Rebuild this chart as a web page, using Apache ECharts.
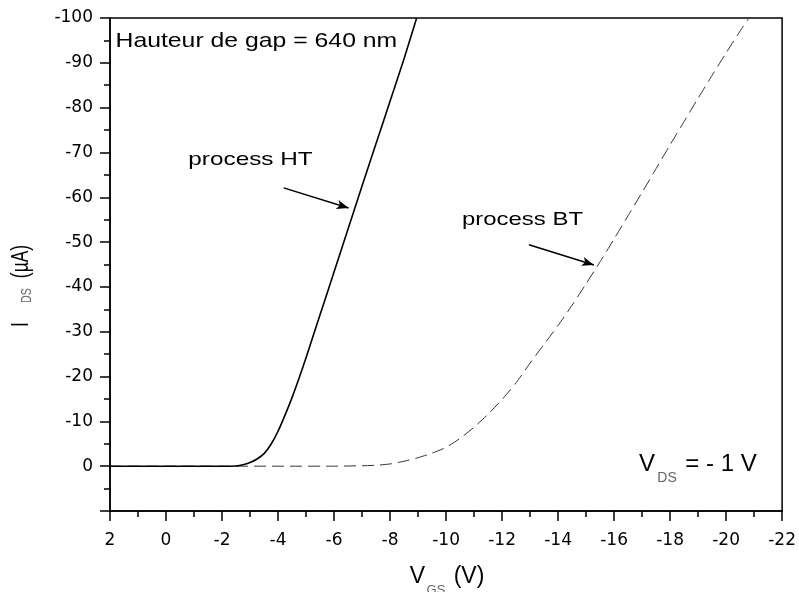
<!DOCTYPE html>
<html><head><meta charset="utf-8">
<script src="https://cdn.jsdelivr.net/npm/echarts@6/dist/echarts.min.js"></script>
<style>html,body{margin:0;padding:0;background:#fff}#c{width:799px;height:592px}</style>
</head><body><div id="c"></div>
<script>
// Process HT (solid) : V_GS (V) and I_DS (µA)
const htV = [2, 0, -2, -2.5, -2.75, -3.0, -3.25, -3.5, -3.75, -4.0, -4.25, -4.5, -4.75, -5.0, -5.5, -6.0, -6.5, -7.0, -7.5, -8.0, -8.5, -8.95];
const htI = [0, 0, 0, -0.05, -0.3, -0.8, -1.6, -2.8, -4.9, -7.8, -11.4, -15.3, -19.6, -24.2, -33.8, -43.3, -52.9, -62.5, -72.0, -81.4, -90.9, -100];
// Process BT (dashed)
const btV = [2, 0, -2, -4, -6, -7, -7.5, -8, -8.5, -9, -9.5, -10, -10.5, -11, -11.5, -12, -12.5, -13, -13.5, -14, -14.5, -15, -15.5, -16, -16.5, -17, -17.5, -18, -18.5, -19, -19.5, -20, -20.5, -20.82];
const btI = [0, 0, 0, 0, 0, -0.1, -0.2, -0.5, -1.1, -1.9, -2.9, -4.2, -6.2, -8.7, -11.6, -14.9, -18.6, -23.0, -27.2, -31.4, -35.9, -40.7, -45.6, -50.7, -55.9, -61.1, -66.4, -71.7, -76.9, -82.1, -87.2, -92.2, -97.1, -100];
// Annotation arrows (data units: start, end)
const arrowHT = [[-4.20, -62.1], [-6.52, -57.6]];
const arrowBT = [[-12.96, -49.4], [-15.28, -44.9]];

const chart = echarts.init(document.getElementById('c'), null, {renderer: 'canvas'});
const black = '#000';
function txt(text, x, y, size, extra) {
  const o = Object.assign({color: black, family: '"Liberation Sans", Arial, sans-serif', align: 'center'}, extra || {});
  const el = {
    type: 'text', x: x, y: y, silent: true, z: 100,
    style: {
      text: text, fill: o.color, font: size + 'px ' + o.family,
      align: o.align, textAlign: o.align, verticalAlign: 'middle', textVerticalAlign: 'middle'
    }
  };
  if (o.scaleX) el.scaleX = o.scaleX;
  if (o.rotation) el.rotation = o.rotation;
  return el;
}
const sub = '#666';
const axisCommon = {
  type: 'value',
  axisLine: {show: true, onZero: false, lineStyle: {color: black, width: 1.5}},
  axisTick: {show: true, inside: false, length: 10, lineStyle: {color: black, width: 1.5}},
  minorTick: {show: true, splitNumber: 2, length: 6, lineStyle: {color: black, width: 1.5}},
  splitLine: {show: false},
  minorSplitLine: {show: false}
};
const arrowMark = (pts) => ({
  silent: true,
  animation: false,
  symbol: ['none', 'arrow'],
  symbolSize: [7, 12],
  label: {show: false},
  emphasis: {disabled: true},
  lineStyle: {color: black, width: 1.5, type: 'solid'},
  data: [[{coord: pts[0]}, {coord: pts[1]}]]
});
chart.setOption({
  animation: false,
  backgroundColor: '#fff',
  grid: {left: 110, right: 15, top: 18, bottom: 81, show: true, borderColor: black, borderWidth: 1.5, containLabel: false},
  xAxis: Object.assign({}, axisCommon, {
    min: -22, max: 2, interval: 2, inverse: true,
    axisLabel: {margin: 21, fontFamily: 'DejaVu Sans', fontSize: 17, color: black}
  }),
  yAxis: Object.assign({}, axisCommon, {
    min: -100, max: 10, interval: 10, inverse: true,
    axisLabel: {margin: 17, fontFamily: 'DejaVu Sans', fontSize: 17, color: black,
      formatter: v => (v > 0 ? '' : String(v))}
  }),
  series: [
    {
      type: 'line', name: 'process BT', z: 2, silent: true,
      data: btV.map((v, i) => [v, btI[i]]),
      symbol: 'none', smooth: 0.2,
      lineStyle: {color: '#333', width: 1, type: [12, 6]},
      markLine: arrowMark(arrowBT)
    },
    {
      type: 'line', name: 'process HT', z: 3, silent: true,
      data: htV.map((v, i) => [v, htI[i]]),
      symbol: 'none', smooth: 0.2,
      lineStyle: {color: black, width: 1.6},
      markLine: arrowMark(arrowHT)
    }
  ],
  graphic: [
    txt('Hauteur de gap = 640 nm', 115.5, 41, 21, {align: 'left', scaleX: 1.18}),
    txt('process HT', 250.5, 160, 19, {scaleX: 1.28}),
    txt('process BT', 522.5, 220, 19, {scaleX: 1.26}),
    // V_DS = - 1 V
    txt('V', 647, 464, 24),
    txt('DS', 667, 478, 14, {color: sub}),
    txt('= - 1 V', 721, 464, 24),
    // x axis title
    txt('V', 417.5, 577, 23),
    txt('GS', 436, 590, 13, {color: sub}),
    txt('(V)', 469, 577, 23),
    // y axis title (rotated)
    txt('I', 21.5, 324.5, 23, {rotation: Math.PI / 2, scaleX: 0.76}),
    txt('DS', 27.5, 295.5, 14, {rotation: Math.PI / 2, scaleX: 0.76, color: sub}),
    txt('(µA)', 22, 261.5, 23, {rotation: Math.PI / 2, scaleX: 0.76})
  ]
});
</script></body></html>
